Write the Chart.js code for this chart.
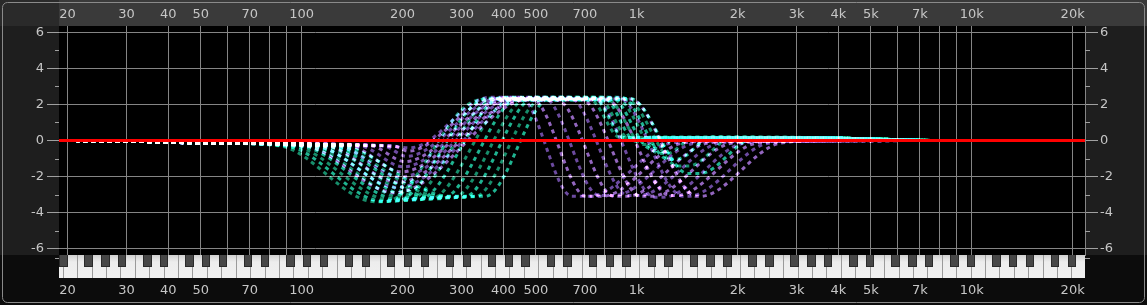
<!DOCTYPE html>
<html>
<head>
<meta charset="utf-8">
<script src="https://cdn.jsdelivr.net/npm/chart.js@4.4.1/dist/chart.umd.min.js"></script>
<style>
html,body{margin:0;padding:0;background:#0c0c0c;}
canvas{display:block;}
</style>
</head>
<body>
<canvas id="c" width="1147" height="305"></canvas>
<script>
// ---------- data ----------
const gridFreqs = [20,30,40,50,60,70,80,90,100,200,300,400,500,600,700,800,900,1000,2000,3000,4000,5000,6000,7000,8000,9000,10000,20000];
const labelFreqs = [20,30,40,50,70,100,200,300,400,500,700,1000,2000,3000,4000,5000,7000,10000,20000];
const freqLabels = ['20','30','40','50','70','100','200','300','400','500','700','1k','2k','3k','4k','5k','7k','10k','20k'];
const dbTicks = [-6,-4,-2,0,2,4,6];
const dbMinorTicks = [5,3,1,-1,-3,-5,-6.5];

// EQ response curves, [frequency Hz, gain dB]
const greenCurves = [
  [[20,0],[32,-0.05],[55,-0.15],[86,-0.3],[166,-3.4],[177,-3.4],[341,2.25],[726,2.25],[892,0.17],[3500,0.15],[6000,0.05],[8000,0],[20000,0]],
  [[20,0],[32,-0.05],[55,-0.15],[90,-0.3],[175,-3.37],[191,-3.37],[360,2.35],[746,2.35],[917,0.15],[3500,0.14],[6000,0.05],[8000,0],[20000,0]],
  [[20,0],[32,-0.05],[55,-0.15],[94,-0.3],[186,-3.33],[206,-3.33],[378,2.3],[772,2.3],[955,0.07],[1096,0.17],[3500,0.15],[6000,0.05],[8000,0],[20000,0]],
  [[20,0],[32,-0.05],[55,-0.15],[99,-0.3],[197,-3.3],[222,-3.3],[399,2.4],[794,2.4],[996,-0.05],[1104,0.19],[3500,0.16],[6000,0.05],[8000,0],[20000,0]],
  [[20,0],[32,-0.05],[55,-0.15],[104,-0.3],[208,-3.27],[240,-3.27],[422,2.25],[821,2.25],[1044,-0.22],[1081,-0.22],[1199,0.17],[3500,0.15],[6000,0.05],[8000,0],[20000,0]],
  [[20,0],[32,-0.05],[55,-0.15],[108,-0.3],[221,-3.23],[261,-3.23],[446,2.35],[844,2.35],[1100,-0.45],[1150,-0.45],[1319,0.15],[3500,0.14],[6000,0.05],[8000,0],[20000,0]],
  [[20,0],[32,-0.05],[55,-0.15],[113,-0.3],[234,-3.2],[281,-3.2],[471,2.3],[874,2.3],[1166,-0.72],[1232,-0.72],[1483,0.17],[3500,0.15],[6000,0.05],[8000,0],[20000,0]],
  [[20,0],[32,-0.05],[55,-0.15],[119,-0.3],[247,-3.17],[303,-3.17],[497,2.4],[898,2.4],[1240,-1.04],[1319,-1.04],[1678,0.19],[3500,0.16],[6000,0.05],[8000,0],[20000,0]],
  [[20,0],[32,-0.05],[55,-0.15],[124,-0.3],[262,-3.13],[327,-3.13],[522,2.28],[929,2.28],[1328,-1.41],[1433,-1.41],[1939,0.17],[3500,0.15],[6000,0.05],[8000,0],[20000,0]],
  [[20,0],[32,-0.05],[55,-0.15],[130,-0.3],[277,-3.1],[353,-3.1],[551,2.33],[955,2.33],[1423,-1.83],[1545,-1.83],[2256,0.15],[3500,0.14],[6000,0.05],[8000,0],[20000,0]]
];
const purpleCurves = [
  [[20,0],[32,-0.05],[55,-0.15],[180,-0.3],[211,-0.4],[365,2.4],[449,2.4],[641,-3.1],[726,-3.1],[1257,-0.15],[1655,-0.02],[20000,0]],
  [[20,0],[32,-0.05],[55,-0.15],[188,-0.3],[208,-0.59],[375,2.3],[487,2.3],[706,-3.1],[788,-3.1],[1366,-0.15],[1798,-0.02],[20000,0]],
  [[20,0],[32,-0.05],[55,-0.15],[175,-0.3],[206,-0.88],[388,2.35],[529,2.35],[772,-3.05],[856,-3.05],[1483,-0.15],[1952,-0.02],[20000,0]],
  [[20,0],[32,-0.05],[55,-0.15],[161,-0.3],[203,-1.17],[399,2.25],[578,2.25],[856,-3.1],[936,-3.1],[1621,-0.15],[2135,-0.02],[20000,0]],
  [[20,0],[32,-0.05],[55,-0.15],[149,-0.3],[201,-1.46],[413,2.4],[628,2.4],[942,-3.05],[1016,-3.05],[1761,-0.15],[2319,-0.02],[20000,0]],
  [[20,0],[32,-0.05],[55,-0.15],[138.5,-0.3],[199,-1.74],[425,2.3],[682,2.3],[1030,-3.1],[1104,-3.1],[1912,-0.15],[2517,-0.02],[20000,0]],
  [[20,0],[32,-0.05],[55,-0.15],[128,-0.3],[197,-2.03],[439,2.35],[741,2.35],[1134,-3.15],[1199,-3.15],[2078,-0.15],[2735,-0.02],[20000,0]],
  [[20,0],[32,-0.05],[55,-0.15],[118,-0.3],[194,-2.32],[452,2.25],[810,2.25],[1257,-3.05],[1310,-3.05],[2272,-0.15],[2991,-0.02],[20000,0]],
  [[20,0],[32,-0.05],[55,-0.15],[110,-0.3],[192.5,-2.61],[467,2.38],[880,2.38],[1375,-3.1],[1423,-3.1],[2467,-0.15],[3248,-0.02],[20000,0]],
  [[20,0],[32,-0.05],[55,-0.15],[102,-0.3],[190,-2.9],[480,2.3],[955,2.3],[1514,-3.1],[1545,-3.1],[2679,-0.15],[3527,-0.02],[20000,0]]
];
const zeroLine = [[18.87,0],[21770,0]];

// ---------- styling ----------
const X_MIN = 18.87, X_MAX = 21770, Y_MIN = -6.36, Y_MAX = 6.36;
const GRID = '#858585', TICKC = '#a0a0a0', LABEL = '#c6c6c6';
const FONT = {family:'DejaVu Sans', size:13};
const greenCols = ['#178e6b','#1fb491'];
const purpleCols = ['#6c4aa0','#9366bf'];

const toXY = arr => arr.map(p => ({x:p[0], y:p[1]}));
const curveDs = (pts, col) => ({
  data: toXY(pts), borderColor: col, borderWidth: 3, borderDash:[4,4],
  pointRadius:0, cubicInterpolationMode:'monotone', fill:false, blend:true
});

const datasets = [
  {data: toXY(zeroLine), borderColor:'#ff0000', borderWidth:3, pointRadius:0, fill:false}
];
greenCurves.forEach((c,i)=>datasets.push(curveDs(c, greenCols[i%2])));
purpleCurves.forEach((c,i)=>datasets.push(curveDs(c, purpleCols[i%2])));

const labelMap = {};
labelFreqs.forEach((f,i)=>labelMap[f]=freqLabels[i]);

const blendPlugin = {
  id:'blend',
  beforeDatasetDraw(chart,args){ if(chart.data.datasets[args.index].blend){ chart.ctx.save(); chart.ctx.globalCompositeOperation='lighter'; } },
  afterDatasetDraw(chart,args){ if(chart.data.datasets[args.index].blend){ chart.ctx.restore(); } }
};

const bgPlugin = {
  id:'bg',
  beforeDraw(chart){
    const ctx = chart.ctx, ca = chart.chartArea, W = chart.width, H = chart.height;
    ctx.save();
    ctx.fillStyle='#0c0c0c'; ctx.fillRect(0,0,W,H);
    ctx.fillStyle='#3a3a3a'; ctx.fillRect(0,0,W,ca.top);
    ctx.fillStyle='#2a2a2a'; ctx.fillRect(0,0,ca.left,ca.top);
    ctx.fillStyle='#1e1e1e';
    ctx.fillRect(0,ca.top,ca.left,ca.bottom-ca.top);
    ctx.fillRect(ca.right,ca.top,W-ca.right,ca.bottom-ca.top);
    ctx.fillStyle='#000'; ctx.fillRect(ca.left,ca.top,ca.right-ca.left,ca.bottom-ca.top);
    ctx.restore();
  },
  afterDraw(chart){
    const ctx = chart.ctx, ca = chart.chartArea, W = chart.width, H = chart.height;
    const xs = chart.scales.x, ys = chart.scales.y;
    // piano keyboard
    const top = ca.bottom, wh = 23, bh = 12;
    ctx.save();
    ctx.beginPath(); ctx.rect(ca.left, top, ca.right-ca.left, wh); ctx.clip();
    const g = ctx.createLinearGradient(0,top,0,top+wh);
    g.addColorStop(0,'#cfcfcf'); g.addColorStop(0.3,'#ededed'); g.addColorStop(1,'#f0f0f0');
    ctx.fillStyle = g; ctx.fillRect(ca.left, top, ca.right-ca.left, wh);
    ctx.strokeStyle = '#9a9a9a'; ctx.lineWidth = 1;
    for (let oct=-1; oct<=11; oct++){
      const c = 16.3516*Math.pow(2,oct);
      const b0 = c*Math.pow(2,-1/24);
      for (let k=0;k<7;k++){
        const px = Math.round(xs.getPixelForValue(b0*Math.pow(2,k/7)))+0.5;
        ctx.beginPath(); ctx.moveTo(px,top); ctx.lineTo(px,top+wh); ctx.stroke();
      }
    }
    for (let oct=-1; oct<=11; oct++){
      const c = 16.3516*Math.pow(2,oct);
      [1,3,6,8,10].forEach(s=>{
        const f = c*Math.pow(2,s/12);
        const x0 = Math.round(xs.getPixelForValue(f*Math.pow(2,-1/24)));
        const x1 = Math.round(xs.getPixelForValue(f*Math.pow(2,1/24)));
        ctx.fillStyle='#2a2a2a'; ctx.fillRect(x0, top, x1-x0, bh);
        ctx.fillStyle='#474747'; ctx.fillRect(x0+1, top, x1-x0-2, bh-1);
      });
    }
    ctx.restore();
    // minor ticks
    ctx.save();
    ctx.strokeStyle = TICKC; ctx.lineWidth = 1;
    dbMinorTicks.forEach(v=>{
      const py = Math.round(ys.getPixelForValue(v))+0.5;
      ctx.beginPath(); ctx.moveTo(ca.left-4,py); ctx.lineTo(ca.left,py); ctx.stroke();
      ctx.beginPath(); ctx.moveTo(ca.right,py); ctx.lineTo(ca.right+5,py); ctx.stroke();
    });
    // frame
    ctx.strokeStyle = '#8a8a8a'; ctx.lineWidth = 1;
    ctx.beginPath();
    if (ctx.roundRect) ctx.roundRect(2.5,2.5,W-5,H-5,5); else ctx.rect(2.5,2.5,W-5,H-5);
    ctx.stroke();
    ctx.restore();
  }
};

const xTicksCommon = {
  color: LABEL, font: FONT, autoSkip:false, maxRotation:0, minRotation:0,
  callback: v => (labelMap[v] !== undefined ? labelMap[v] : '')
};
const setXTicks = s => { s.ticks = gridFreqs.map(v=>({value:v})); };
const setYTicks = s => { s.ticks = dbTicks.map(v=>({value:v})); };

new Chart(document.getElementById('c'), {
  type:'line',
  data:{ datasets },
  plugins:[bgPlugin, blendPlugin],
  options:{
    responsive:false, devicePixelRatio:1, animation:false, events:[],
    layout:{padding:0},
    plugins:{legend:{display:false}, tooltip:{enabled:false}},
    scales:{
      x:{
        type:'logarithmic', position:'bottom', min:X_MIN, max:X_MAX,
        afterBuildTicks:setXTicks, afterFit:s=>{s.height=50;},
        ticks:Object.assign({padding:28}, xTicksCommon),
        grid:{color:GRID, lineWidth:1, drawTicks:false},
        border:{display:false}
      },
      xTop:{
        type:'logarithmic', position:'top', min:X_MIN, max:X_MAX,
        afterBuildTicks:setXTicks, afterFit:s=>{s.height=26;},
        ticks:Object.assign({padding:4}, xTicksCommon),
        grid:{display:false, drawTicks:false},
        border:{display:false}
      },
      y:{
        type:'linear', position:'left', min:Y_MIN, max:Y_MAX,
        afterBuildTicks:setYTicks, afterFit:s=>{s.width=59;},
        ticks:{color:LABEL, font:FONT, padding:3, callback:v=>String(v)},
        grid:{color:GRID, lineWidth:1, drawTicks:true, tickLength:12, tickColor:TICKC},
        border:{display:false}
      },
      y2:{
        type:'linear', position:'right', min:Y_MIN, max:Y_MAX,
        afterBuildTicks:setYTicks, afterFit:s=>{s.width=62;},
        ticks:{color:LABEL, font:FONT, padding:2, callback:v=>String(v)},
        grid:{drawOnChartArea:false, drawTicks:true, tickLength:13, tickColor:TICKC},
        border:{display:true, color:GRID}
      }
    }
  }
});
</script>
</body>
</html>
